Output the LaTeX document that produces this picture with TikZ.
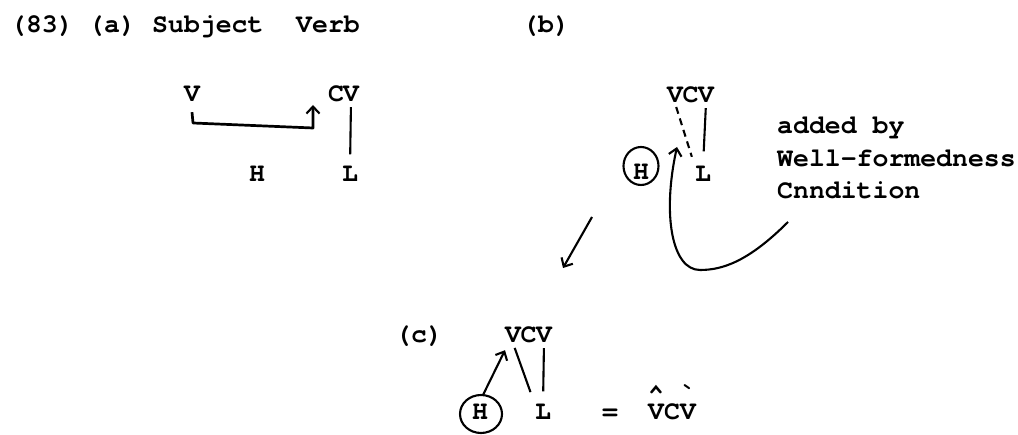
\documentclass[tikz,border=0pt]{standalone}
\usepackage{fontspec}
\setmonofont{texgyrecursor-bold.otf}
\usetikzlibrary{arrows.meta}
\begin{document}
\begin{tikzpicture}[x=1pt,y=-1pt,
  tx/.style={inner sep=0pt, font=\ttfamily\fontsize{26.5}{32}\selectfont},
  ln/.style={line width=2.1pt},
  arr/.style={line width=2.1pt, -{Straight Barb[length=7pt,width=13pt,line width=2.1pt]}},
]
\useasboundingbox (0,0) rectangle (1018,435);
% header
\node[tx,anchor=base west] (n83) at (10,33) {(83)};
\node[tx,anchor=base west] (na) at (88,33) {(a)};
\node[tx,anchor=base west] (nsubj) at (152,33) {Subject};
\node[tx,anchor=base west] (nverb) at (296,33) {Verb};
\node[tx,anchor=base west] (nb) at (522,33) {(b)};
% (a)
\node[tx,anchor=base] (aV) at (192,102) {V};
\node[tx,anchor=base] (aC) at (336,102) {C};
\node[tx,anchor=base] (aV2) at (351,102) {V};
\node[tx,anchor=base] (aH) at (257,182) {H};
\node[tx,anchor=base] (aL) at (350,182) {L};
\coordinate (a1) at (193,123);
\coordinate (a2) at (313,128);
\coordinate (a3) at (313,105);
\draw[arr,line width=2.7pt,line join=round] ([yshift=-10pt]aV.south) -- (a1) -- (a2) -- (a3);
\draw[ln,shorten <=5pt,shorten >=12pt] (aV2.south) -- (aL.north);
% (b)
\node[tx,anchor=base] (bV1) at (675,103) {V};
\node[tx,anchor=base] (bC) at (690.6,103) {C};
\node[tx,anchor=base] (bV2) at (706,103) {V};
\node[tx,anchor=base] (bH) at (641,180) {H};
\node[tx,anchor=base] (bL) at (703,182) {L};
\draw[ln] (641,166) ellipse [x radius=17.5, y radius=19];
\draw[ln,dash pattern=on 7pt off 5pt,shorten <=4pt,shorten >=10pt] (bV1.south) -- (bL.north west);
\draw[ln,shorten <=5pt,shorten >=15pt] (bV2.south) -- (bL.north);
\coordinate (bs) at (788,222);
\coordinate (bb) at (700,270);
\coordinate (btip) at (677,147);
\draw[arr] (bs) .. controls (748,262) and (722,270) .. (bb) .. controls (672,270) and (662,215) .. (btip);
\node[tx,anchor=base west] (t1) at (777,134) {added by};
\node[tx,anchor=base west] (t2) at (777,167) {Well-formedness};
\node[tx,anchor=base west] (t3) at (777,199) {Cnndition};
\coordinate (d1) at (592,217);
\coordinate (d2) at (563,268);
\draw[arr] (d1) -- (d2);
% (c)
\node[tx,anchor=base west] (nc) at (395,343) {(c)};
\node[tx,anchor=base] (cV1) at (513,343) {V};
\node[tx,anchor=base] (cC) at (528.6,343) {C};
\node[tx,anchor=base] (cV2) at (544,343) {V};
\node[tx,anchor=base] (cH) at (480,420) {H};
\node[tx,anchor=base] (cL) at (543,420) {L};
\draw[ln] (481,414) ellipse [x radius=21, y radius=19];
\coordinate (cHt) at (483,395);
\draw[arr] (cHt) -- ([shift={(-8pt,-7pt)}]cV1.south);
\draw[ln,shorten <=5pt,shorten >=13pt] (cV1.south) -- (cL.north west);
\draw[ln,shorten <=5pt,shorten >=13pt] (cV2.south) -- (cL.north);
\node[tx,anchor=base] (eq) at (610,420) {=};
\node[tx,anchor=base west] (res) at (648,420) {\makebox[0pt][l]{\raisebox{17pt}{\textasciicircum}}VC\makebox[0pt][l]{\raisebox{17pt}{\textasciigrave}}V};
\end{tikzpicture}
\end{document}
